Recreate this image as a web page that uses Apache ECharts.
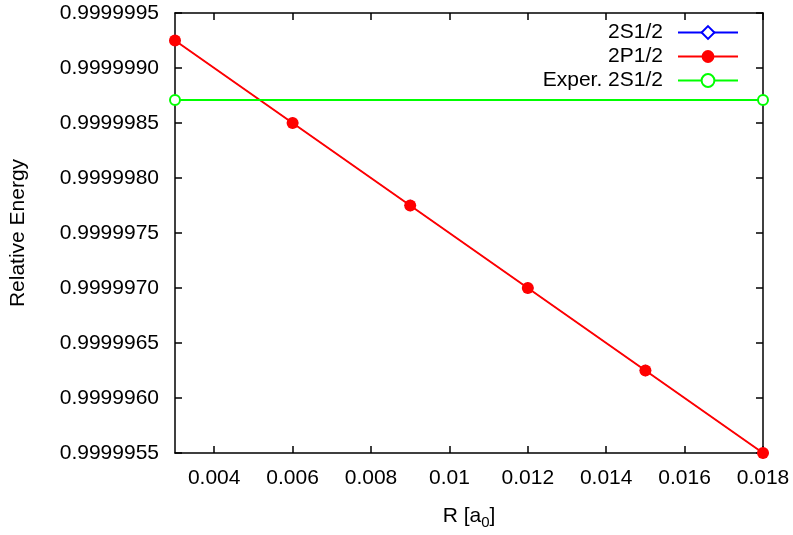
<!DOCTYPE html>
<html><head><meta charset="utf-8">
<script src="https://cdn.jsdelivr.net/npm/echarts@6/dist/echarts.min.js"></script>
<style>html,body{margin:0;padding:0;background:#fff}#c{width:793px;height:535px}</style>
</head><body><div id="c"></div>
<script>
const rValues = [0.003, 0.006, 0.009, 0.012, 0.015, 0.018];
const s2S12 = [0.99999925, 0.9999985, 0.99999775, 0.999997, 0.99999625, 0.9999955];
const s2P12 = [0.99999925, 0.9999985, 0.99999775, 0.999997, 0.99999625, 0.9999955];
const experR = [0.003, 0.018];
const exper2S12 = [0.99999871, 0.99999871];
const xTicks = [0.004, 0.006, 0.008, 0.010, 0.012, 0.014, 0.016, 0.018];
const yTicks = [0.9999955, 0.999996, 0.9999965, 0.999997, 0.9999975, 0.999998, 0.9999985, 0.999999, 0.9999995];
const seriesNames = ['2S1/2', '2P1/2', 'Exper. 2S1/2'];

const FONT = 'Liberation Sans, Arial, sans-serif';
const FS = 21;
const pairs = (xs, ys) => xs.map((x, i) => [x, ys[i]]);
const xFmt = v => String(+v.toFixed(3));
const yFmt = v => v.toFixed(7);
const frame = { show: true, lineStyle: { color: '#000', width: 1.5 } };

const chart = echarts.init(document.getElementById('c'), null, { renderer: 'canvas' });
chart.setOption({
  animation: false,
  backgroundColor: '#fff',
  grid: { left: 175, right: 30, top: 13, bottom: 80, containLabel: false },
  legend: {
    right: 49, top: 17, orient: 'vertical', align: 'right',
    itemWidth: 60, itemHeight: 16, itemGap: 3, selectedMode: false,
    textStyle: { fontFamily: FONT, fontSize: FS, color: '#000', padding: [0, 10, 0, 0] },
    data: seriesNames
  },
  xAxis: [{
    type: 'value', min: 0.003, max: 0.018, position: 'bottom',
    axisLine: frame, splitLine: { show: false },
    axisTick: { show: true, inside: true, length: 7, lineStyle: { color: '#000', width: 1.5 }, customValues: xTicks },
    axisLabel: { fontFamily: FONT, fontSize: FS, color: '#000', margin: 15, customValues: xTicks, formatter: xFmt },
    name: 'R [a{sub|0}]', nameLocation: 'middle', nameGap: 50,
    nameTextStyle: { fontFamily: FONT, fontSize: FS, color: '#000',
      rich: { sub: { fontFamily: FONT, fontSize: 15, color: '#000', verticalAlign: 'bottom', padding: [12, 0, 0, 0] } } }
  }, {
    type: 'value', min: 0.003, max: 0.018, position: 'top',
    axisLine: frame, splitLine: { show: false },
    axisTick: { show: true, inside: true, length: 7, lineStyle: { color: '#000', width: 1.5 }, customValues: xTicks },
    axisLabel: { show: false }
  }],
  yAxis: [{
    type: 'value', min: 0.9999955, max: 0.9999995, position: 'left',
    axisLine: frame, splitLine: { show: false },
    axisTick: { show: true, inside: true, length: 7, lineStyle: { color: '#000', width: 1.5 }, customValues: yTicks },
    axisLabel: { fontFamily: FONT, fontSize: FS, color: '#000', margin: 16, customValues: yTicks, formatter: yFmt },
    name: 'Relative Energy', nameLocation: 'middle', nameGap: 146,
    nameTextStyle: { fontFamily: FONT, fontSize: FS, color: '#000' }
  }, {
    type: 'value', min: 0.9999955, max: 0.9999995, position: 'right',
    axisLine: frame, splitLine: { show: false },
    axisTick: { show: true, inside: true, length: 7, lineStyle: { color: '#000', width: 1.5 }, customValues: yTicks },
    axisLabel: { show: false }
  }],
  series: [{
    name: seriesNames[0], type: 'line', data: pairs(rValues, s2S12),
    symbol: 'emptyDiamond', symbolSize: 9, showAllSymbol: true,
    lineStyle: { color: '#0000ff', width: 1 }, itemStyle: { color: '#0000ff', borderWidth: 1.5 }, z: 2
  }, {
    name: seriesNames[1], type: 'line', data: pairs(rValues, s2P12),
    symbol: 'circle', symbolSize: 12, showAllSymbol: true,
    lineStyle: { color: '#ff0000', width: 2 }, itemStyle: { color: '#ff0000' }, z: 3
  }, {
    name: seriesNames[2], type: 'line', data: pairs(experR, exper2S12),
    symbol: 'emptyCircle', symbolSize: 10, showAllSymbol: true,
    lineStyle: { color: '#00ff00', width: 2 }, itemStyle: { color: '#00ff00', borderWidth: 2 }, z: 4
  }]
});
</script></body></html>
